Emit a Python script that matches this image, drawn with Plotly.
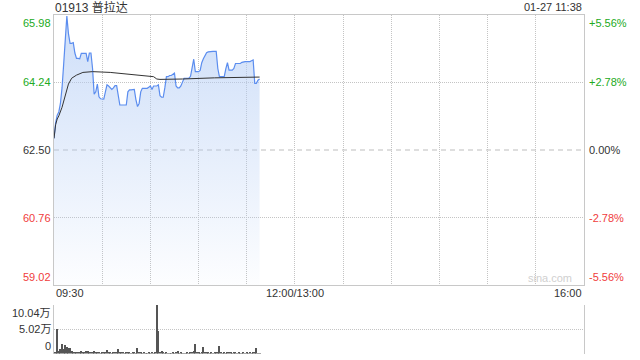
import plotly.graph_objects as go

# ---------------- data ----------------
prev_close = 62.50
minutes = list(range(129))  # 09:30 .. 11:38, one point per minute
prices = [
    62.80, 63.20, 63.40, 63.48, 63.70, 64.10, 64.70, 65.30, 65.95, 65.50,
    65.25, 65.25, 65.27, 65.00, 64.86, 64.86, 64.85, 64.99, 64.99, 64.99,
    64.99, 64.78, 65.00, 65.00, 64.60, 63.94, 64.00, 64.20, 63.87, 63.82,
    63.81, 63.81, 64.00, 64.18, 64.15, 64.10, 64.06, 64.10, 64.16, 64.16,
    63.90, 63.66, 63.66, 63.66, 63.66, 63.66, 64.00, 64.05, 64.05, 64.06,
    64.06, 63.80, 63.62, 63.70, 64.00, 64.09, 64.09, 64.09, 64.09, 64.12,
    64.15, 64.06, 64.15, 64.15, 64.15, 64.18, 63.90, 63.86, 63.86, 64.10,
    64.39, 64.39, 64.42, 64.42, 64.45, 64.48, 64.15, 64.10, 64.10, 64.15,
    64.25, 64.35, 64.35, 64.35, 64.35, 64.40, 64.60, 64.84, 64.52, 64.52,
    64.52, 64.55, 64.75, 64.85, 64.92, 65.01, 65.03, 65.04, 65.04, 65.04,
    65.04, 65.04, 64.60, 64.39, 64.39, 64.39, 64.39, 64.60, 64.75, 64.56,
    64.56, 64.56, 64.60, 64.73, 64.73, 64.73, 64.73, 64.76, 64.78, 64.78,
    64.78, 64.78, 64.78, 64.80, 64.82, 64.22, 64.22, 64.30, 64.33,
]
avg_minutes = [0, 1, 2, 3, 5, 7, 8, 9, 11, 14, 18, 24, 35, 45, 55, 62, 64, 66, 80, 100, 128]
avg_values = [62.80, 63.15, 63.30, 63.38, 63.60, 63.90, 64.05, 64.20, 64.35, 64.43,
              64.50, 64.52, 64.50, 64.46, 64.42, 64.39, 64.33, 64.32, 64.33, 64.36, 64.38]
volumes = [  # 万
    0.30, 0.50, 5.15, 0.70, 1.00, 2.10, 1.00, 1.90, 1.40, 1.20,
    1.20, 0.70, 0.50, 0.50, 0.40, 0.50, 0.40, 0.60, 0.40, 0.40,
    0.60, 0.70, 0.35, 0.50, 0.35, 0.70, 0.50, 0.25, 0.50, 0.10,
    0.25, 0.25, 0.35, 0.85, 0.25, 0.30, 0.20, 0.35, 0.30, 0.40,
    1.00, 0.30, 0.25, 0.30, 0.20, 0.35, 0.25, 0.30, 0.20, 0.25,
    0.30, 0.20, 1.30, 0.30, 0.25, 0.20, 0.30, 0.15, 0.20, 0.25,
    0.20, 0.30, 0.20, 0.30, 10.04, 4.80, 0.30, 0.70, 0.25, 0.20,
    0.30, 0.20, 0.15, 0.20, 0.25, 0.20, 0.30, 0.70, 0.20, 0.25,
    0.20, 0.15, 0.20, 0.30, 0.20, 0.25, 0.30, 0.60, 2.10, 0.30,
    0.25, 0.20, 0.50, 1.40, 0.30, 0.25, 0.40, 0.20, 0.25, 0.20,
    0.30, 0.25, 0.40, 1.60, 0.30, 0.20, 0.25, 0.20, 0.30, 0.25,
    0.40, 0.20, 0.25, 0.30, 0.20, 0.25, 0.20, 0.15, 0.25, 0.20,
    0.30, 0.20, 0.25, 0.20, 0.30, 0.25, 1.25, 0.15, 0.20,
]
price_ticks = [65.98, 64.24, 62.50, 60.76, 59.02]
price_labels = ["65.98", "64.24", "62.50", "60.76", "59.02"]
pct_labels = ["+5.56%", "+2.78%", "0.00%", "-2.78%", "-5.56%"]
vol_ticks = [10.04, 5.02, 0]
vol_labels = ["10.04万", "5.02万", "0"]
time_ticks = [0, 150, 330]
time_labels = ["09:30", "12:00/13:00", "16:00"]
grid_minutes = list(range(0, 331, 30))
title_text = "01913 普拉达"
stamp_text = "01-27 11:38"

# ---------------- style ----------------
GREEN = "#22aa22"
RED = "#f03c3c"
DARK = "#333333"
GRID = "#c4c4c4"
BORDER = "#c8c8c8"
DOTS = "1px,1px"
FONT = "Liberation Sans, Arial, Noto Sans CJK SC"
tick_colors = [GREEN, GREEN, DARK, RED, RED]
tick_anchor = ["top", "middle", "middle", "middle", "bottom"]

W, H = 640, 360
x0, x1 = 54 / W, 584 / W
main_dom = [1 - 285 / H, 1 - 15 / H]
vol_dom = [1 - 353.5 / H, 1 - 304.5 / H]

fig = go.Figure()
fig.add_trace(go.Scatter(
    x=minutes, y=prices, mode="lines",
    line=dict(color="#5b8def", width=1.2),
    fill="tozeroy",
    fillgradient=dict(type="vertical", start=price_ticks[-1], stop=price_ticks[0],
                      colorscale=[[0, "rgba(180,205,245,0.03)"],
                                  [1, "rgba(180,205,245,0.66)"]]),
    xaxis="x", yaxis="y", hoverinfo="skip", showlegend=False))
fig.add_trace(go.Scatter(
    x=avg_minutes, y=avg_values, mode="lines",
    line=dict(color="#333333", width=1),
    xaxis="x", yaxis="y", hoverinfo="skip", showlegend=False))
fig.add_trace(go.Bar(
    x=minutes, y=volumes, width=0.65,
    marker=dict(color="#555555", line=dict(width=0)),
    xaxis="x2", yaxis="y2", hoverinfo="skip", showlegend=False))

ax_common = dict(zeroline=False, showticklabels=False, ticks="")
fig.update_layout(
    width=W, height=H, margin=dict(l=0, r=0, t=0, b=0),
    paper_bgcolor="white", plot_bgcolor="white",
    font=dict(family=FONT, size=11, color=DARK),
    xaxis=dict(domain=[x0, x1], range=[0, 330], anchor="y",
               tickvals=grid_minutes, showgrid=True, gridcolor=GRID, griddash=DOTS,
               showline=True, mirror=True, linecolor=BORDER, **ax_common),
    yaxis=dict(domain=main_dom, range=[price_ticks[-1], price_ticks[0]], anchor="x",
               tickvals=[price_ticks[1], price_ticks[3]], showgrid=True,
               gridcolor=GRID, griddash=DOTS,
               showline=True, mirror=True, linecolor=BORDER, **ax_common),
    xaxis2=dict(domain=[x0, x1], range=[0, 330], anchor="y2",
                showgrid=False, showline=False, **ax_common),
    yaxis2=dict(domain=vol_dom, range=[0, vol_ticks[0]], anchor="x2",
                tickvals=vol_ticks, showgrid=True, gridcolor=GRID, griddash=DOTS,
                showline=True, mirror=True, linecolor=BORDER, **ax_common),
    bargap=0,
    shapes=[dict(type="line", xref="x domain", yref="y", x0=0, x1=1,
                 y0=prev_close, y1=prev_close, layer="below",
                 line=dict(color="#bdbdbd", width=1, dash="5px,4px"))],
)

ann = []
for v, lab, pl, c, ya in zip(price_ticks, price_labels, pct_labels, tick_colors, tick_anchor):
    ann.append(dict(xref="paper", yref="y", x=x0, y=v, text=lab, showarrow=False,
                    xanchor="right", yanchor=ya, xshift=-1, font=dict(color=c, size=11)))
    ann.append(dict(xref="paper", yref="y", x=x1, y=v, text=pl, showarrow=False,
                    xanchor="left", yanchor=ya, xshift=3, font=dict(color=c, size=11)))
for v, lab, ya in zip(vol_ticks, vol_labels, ["top", "middle", "bottom"]):
    ann.append(dict(xref="paper", yref="y2", x=x0, y=v, text=lab, showarrow=False,
                    xanchor="right", yanchor=ya, xshift=-1, font=dict(color=DARK, size=11)))
for v, lab, xa in zip(time_ticks, time_labels, ["left", "center", "right"]):
    ann.append(dict(xref="x", yref="paper", x=v, y=1 - 293 / H, text=lab, showarrow=False,
                    xanchor=xa, yanchor="middle", font=dict(color=DARK, size=11)))
ann.append(dict(xref="paper", yref="paper", x=x0, y=1 - 7 / H, text=title_text,
                showarrow=False, xanchor="left", yanchor="middle", xshift=-1,
                font=dict(color=DARK, size=12)))
ann.append(dict(xref="paper", yref="paper", x=x1, y=1 - 7 / H, text=stamp_text,
                showarrow=False, xanchor="right", yanchor="middle",
                font=dict(color=DARK, size=11)))
ann.append(dict(xref="paper", yref="paper", x=574 / W, y=1 - 278 / H, text="sina.com",
                showarrow=False, xanchor="right", yanchor="middle",
                font=dict(color="#d0d0d0", size=11)))
fig.update_layout(annotations=ann)

fig.write_html("out.html", config={"displayModeBar": False})
